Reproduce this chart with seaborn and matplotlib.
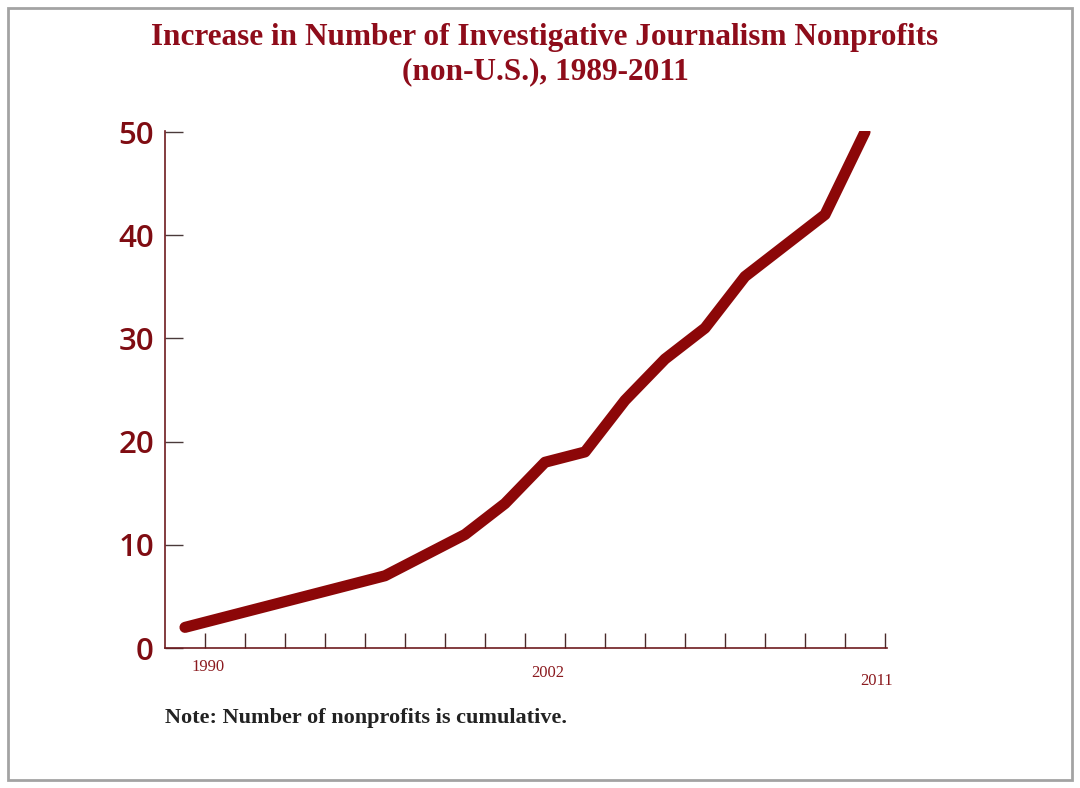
import pandas as pd
import numpy as np
import matplotlib.pyplot as plt
import seaborn as sns
from matplotlib.patches import Rectangle

# period index along the x axis (one slot per tick gap) and cumulative count
period = [0, 5, 7, 8, 9, 10, 11, 12, 13, 14, 15, 16, 17]
count = [2, 7, 11, 14, 18, 19, 24, 28, 31, 36, 39, 42, 50]

year_labels = ["1990", "2002", "2011"]
year_pos = [0.58, 9.07, 17.3]
year_drop = [19, 25, 33]  # px below axis, labels are staggered

y_ticks = [0, 10, 20, 30, 40, 50]

df = pd.DataFrame({"period": period, "count": count})

sns.set_style("white")
plt.rcParams["font.family"] = ["Open Sans", "DejaVu Sans"]

dark_red = "#8c0708"
fig = plt.figure(figsize=(10.8, 7.88), dpi=100)
ax = fig.add_axes([165 / 1080, 1 - 648 / 788, (887 - 165) / 1080, (648 - 131) / 788])

sns.lineplot(data=df, x="period", y="count", ax=ax, color=dark_red, linewidth=8,
             solid_capstyle="round", solid_joinstyle="round")

ax.set_xlim(-0.5, 17.55)
ax.set_ylim(0, 50.1)
ax.set_xlabel("")
ax.set_ylabel("")

for s in ["top", "right"]:
    ax.spines[s].set_visible(False)
ax.spines["left"].set_color("#6e1b1f")
ax.spines["bottom"].set_color("#6e1b1f")
ax.spines["left"].set_linewidth(1.2)
ax.spines["bottom"].set_linewidth(1.2)

ax.set_yticks(y_ticks)
ax.set_yticklabels([str(v) for v in y_ticks], fontsize=22.5, color="#7f0c12", fontweight="semibold")
ax.tick_params(axis="y", direction="in", length=13, width=1, color="#4a3a3a", pad=8, left=True)
ax.yaxis.get_major_ticks()[-1].tick1line.set_color("#b0a8a8")

ax.set_xticks(np.arange(0.5, 18, 1.0))
ax.set_xticklabels([])
ax.tick_params(axis="x", direction="in", length=11, width=1, color="#4a2a2a", bottom=True)

for lab, pos, drop in zip(year_labels, year_pos, year_drop):
    ax.annotate(lab, xy=(pos, 0), xycoords="data", xytext=(0, -drop), textcoords="offset pixels",
                ha="center", va="center", fontsize=12, color="#8b1a1f", family="Liberation Serif")

fig.text(545 / 1080, 1 - 37 / 788, "Increase in Number of Investigative Journalism Nonprofits",
         ha="center", va="center", fontsize=22.5, fontweight="bold", color="#8e0c1a",
         family="Liberation Serif")
fig.text(545 / 1080, 1 - 72 / 788, "(non-U.S.), 1989-2011",
         ha="center", va="center", fontsize=22.5, fontweight="bold", color="#8e0c1a",
         family="Liberation Serif")

fig.text(165 / 1080, 1 - 718 / 788, "Note: Number of nonprofits is cumulative.",
         ha="left", va="center", fontsize=16, fontweight="bold", color="#222222",
         family="Liberation Serif")

fig.patches.append(Rectangle((8 / 1080, 8 / 788), 1064 / 1080, 772 / 788, transform=fig.transFigure,
                             fill=False, edgecolor="#a3a3a3", linewidth=2))

fig.savefig("out.png", dpi=100)
